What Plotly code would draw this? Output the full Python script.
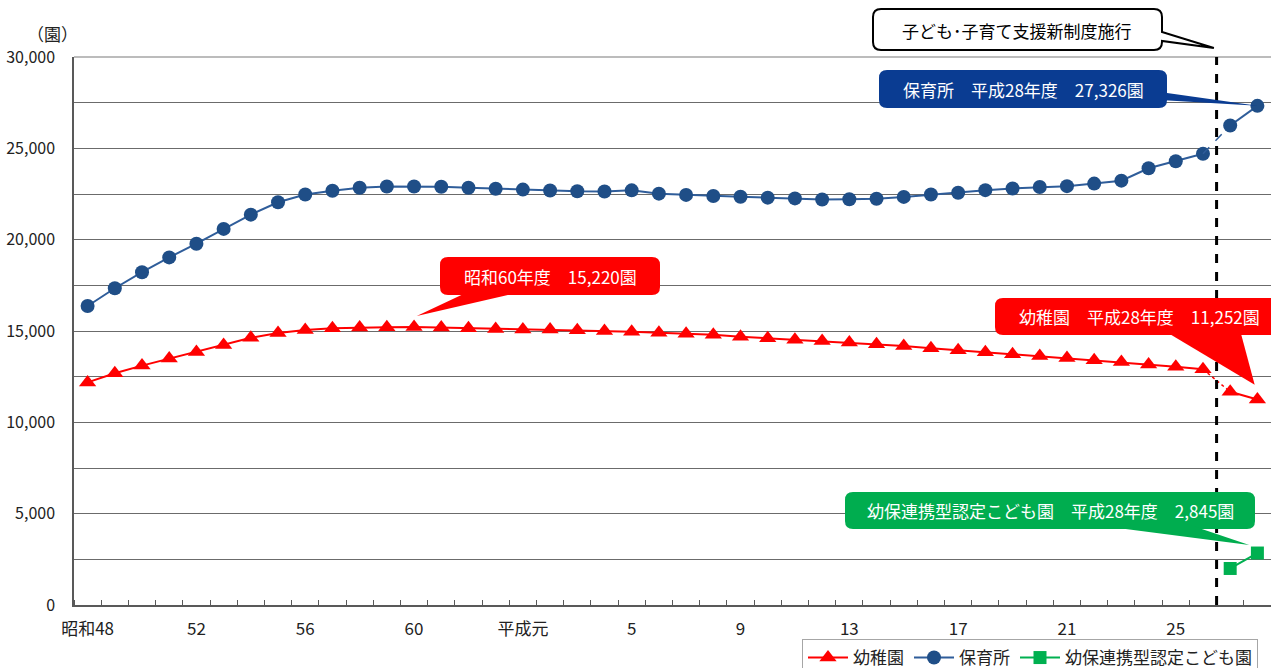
import plotly.graph_objects as go

# ---------------- data ----------------
categories = ["昭和48", "昭和49", "昭和50", "昭和51", "昭和52", "昭和53", "昭和54", "昭和55",
              "昭和56", "昭和57", "昭和58", "昭和59", "昭和60", "昭和61", "昭和62", "昭和63",
              "平成元", "平成2", "平成3", "平成4", "平成5", "平成6", "平成7", "平成8",
              "平成9", "平成10", "平成11", "平成12", "平成13", "平成14", "平成15", "平成16",
              "平成17", "平成18", "平成19", "平成20", "平成21", "平成22", "平成23", "平成24",
              "平成25", "平成26", "平成27", "平成28"]

kindergarten = [12186, 12686, 13106, 13492, 13854, 14229, 14627, 14893, 15059, 15152,
                15189, 15211, 15220, 15189, 15156, 15115, 15080, 15076, 15041, 15006,
                14958, 14901, 14856, 14790, 14690, 14603, 14527, 14451, 14375, 14279,
                14174, 14061, 13949, 13835, 13723, 13626, 13516, 13392, 13299, 13170,
                13043, 12905, 11674, 11252]

nursery = [16370, 17340, 18220, 19030, 19780, 20590, 21370, 22050, 22470, 22680,
           22840, 22910, 22910, 22899, 22840, 22790, 22740, 22690, 22650, 22640,
           22700, 22520, 22450, 22390, 22350, 22300, 22260, 22199, 22210, 22240,
           22340, 22470, 22570, 22710, 22800, 22880, 22930, 23069, 23230, 23910,
           24290, 24700, 26250, 27326]

kodomoen_years = ["平成27", "平成28"]
kodomoen = [2000, 2845]

tick_categories = ["昭和48", "昭和52", "昭和56", "昭和60", "平成元", "平成5", "平成9",
                   "平成13", "平成17", "平成21", "平成25"]
tick_labels = ["昭和48", "52", "56", "60", "平成元", "5", "9", "13", "17", "21", "25"]
y_ticks = [0, 2500, 5000, 7500, 10000, 12500, 15000, 17500, 20000, 22500, 25000, 27500, 30000]

new_system_start = "平成27"

# ---------------- styling ----------------
FONT = "Noto Sans CJK JP"
RED = "#ff0000"
BLUE_M = "#1f4e87"
BLUE_L = "#2f5d9a"
GREEN = "#00b050"
CALL_BLUE = "#0a3c92"
CALL_GREEN = "#00ad4f"

W, H = 1271, 668
L, R, T, B = 74, 0, 57, 63
PW, PH = W - L - R, H - T - B
XMIN, XMAX = -0.5, len(categories) - 0.5
YMAX = 30000

xs = list(range(len(categories)))
k = categories.index(new_system_start)


def px2paper_x(px):
    return (px - L) / PW


def px2paper_y(py):
    return (H - B - py) / PH


def data2paper_x(i):
    return (i - XMIN) / (XMAX - XMIN)


def data2paper_y(v):
    return v / YMAX


fig = go.Figure()

# kindergarten
fig.add_trace(go.Scatter(x=xs[:k], y=kindergarten[:k], mode="lines+markers", name="幼稚園",
                         line=dict(color=RED, width=2),
                         marker=dict(symbol="triangle-up", size=15, color=RED)))
fig.add_trace(go.Scatter(x=xs[k - 1:k + 1], y=kindergarten[k - 1:k + 1], mode="lines",
                         showlegend=False, line=dict(color=RED, width=1.5, dash="dot")))
fig.add_trace(go.Scatter(x=xs[k:], y=kindergarten[k:], mode="lines+markers", showlegend=False,
                         line=dict(color=RED, width=2),
                         marker=dict(symbol="triangle-up", size=15, color=RED)))

# nursery
fig.add_trace(go.Scatter(x=xs[:k], y=nursery[:k], mode="lines+markers", name="保育所",
                         line=dict(color=BLUE_L, width=2),
                         marker=dict(symbol="circle", size=14, color=BLUE_M)))
fig.add_trace(go.Scatter(x=xs[k - 1:k + 1], y=nursery[k - 1:k + 1], mode="lines",
                         showlegend=False, line=dict(color=BLUE_L, width=1.5, dash="dash")))
fig.add_trace(go.Scatter(x=xs[k:], y=nursery[k:], mode="lines+markers", showlegend=False,
                         line=dict(color=BLUE_L, width=2),
                         marker=dict(symbol="circle", size=14, color=BLUE_M)))

# kodomoen
kx = [categories.index(c) for c in kodomoen_years]
fig.add_trace(go.Scatter(x=kx, y=kodomoen, mode="lines+markers", name="幼保連携型認定こども園",
                         line=dict(color=GREEN, width=2),
                         marker=dict(symbol="square", size=13, color=GREEN)))

shapes = []
annotations = []

# lighter top border line
shapes.append(dict(type="line", xref="paper", yref="paper", x0=0, x1=1, y0=1, y1=1,
                   line=dict(color="#a6a6a6", width=1.5), layer="above"))

# dashed vertical line (new system)
shapes.append(dict(type="line", xref="x", yref="paper", x0=k - 0.5, x1=k - 0.5, y0=0, y1=1,
                   line=dict(color="black", width=3, dash="dash"), layer="above"))


def rrect_path(x0, y0, x1, y1, r=8):
    """rounded rect from pixel coords -> path in paper coords"""
    rx = r / PW
    ry = r / PH
    a, b = px2paper_x(x0), px2paper_x(x1)
    top, bot = px2paper_y(y0), px2paper_y(y1)
    return (f"M{a + rx},{top} L{b - rx},{top} Q{b},{top} {b},{top - ry} "
            f"L{b},{bot + ry} Q{b},{bot} {b - rx},{bot} L{a + rx},{bot} "
            f"Q{a},{bot} {a},{bot + ry} L{a},{top - ry} Q{a},{top} {a + rx},{top} Z")


def wedge_path(p1, p2, tip):
    (x1, y1), (x2, y2) = p1, p2
    return (f"M{px2paper_x(x1)},{px2paper_y(y1)} L{px2paper_x(x2)},{px2paper_y(y2)} "
            f"L{tip[0]},{tip[1]} Z")


def callout(box, base1, base2, tip, color, text, tcx, tcy, size=17):
    shapes.append(dict(type="path", xref="paper", yref="paper", path=rrect_path(*box),
                       fillcolor=color, line=dict(width=0), layer="above"))
    shapes.append(dict(type="path", xref="paper", yref="paper",
                       path=wedge_path(base1, base2, tip),
                       fillcolor=color, line=dict(width=0), layer="above"))
    annotations.append(dict(xref="paper", yref="paper", x=px2paper_x(tcx), y=px2paper_y(tcy),
                            text=text, showarrow=False, xanchor="center", yanchor="middle",
                            font=dict(family=FONT, size=size, color="white")))


last = len(categories) - 1
i60 = categories.index("昭和60")

# blue callout (nursery)
callout((879, 70, 1167, 108), (1160, 92), (1160, 100),
        (data2paper_x(last), data2paper_y(nursery[last])),
        CALL_BLUE, "保育所　平成28年度　27,326園", 1023, 89)

# red callout 昭和60
callout((440, 257, 660, 295), (472, 290), (530, 290),
        (data2paper_x(i60 + 0.1), data2paper_y(kindergarten[i60] + 600)),
        RED, "昭和60年度　15,220園", 550, 276)

# red callout 幼稚園 H28
callout((995, 298, 1285, 335), (1163, 330), (1240, 330),
        (data2paper_x(last - 0.1), data2paper_y(kindergarten[last] + 800)),
        RED, "幼稚園　平成28年度　11,252園", 1139, 316)

# green callout
callout((845, 492, 1255, 529), (1087, 524), (1187, 524),
        (data2paper_x(last - 0.3), data2paper_y(kodomoen[-1] + 440)),
        CALL_GREEN, "幼保連携型認定こども園　平成28年度　2,845園", 1050, 510)

# white callout (new system)
bx0, by0, bx1, by1, r = 873, 9, 1162, 50, 8
rx, ry = r / PW, r / PH
a, b_ = px2paper_x(bx0), px2paper_x(bx1)
top, bot = px2paper_y(by0), px2paper_y(by1)
tipx, tipy = data2paper_x(k - 0.6), px2paper_y(48)
white_path = (f"M{a + rx},{top} L{b_ - rx},{top} Q{b_},{top} {b_},{top - ry} "
              f"L{b_},{px2paper_y(32)} L{tipx},{tipy} L{b_},{px2paper_y(41)} "
              f"L{b_},{bot + ry} Q{b_},{bot} {b_ - rx},{bot} L{a + rx},{bot} "
              f"Q{a},{bot} {a},{bot + ry} L{a},{top - ry} Q{a},{top} {a + rx},{top} Z")
shapes.append(dict(type="path", xref="paper", yref="paper", path=white_path,
                   fillcolor="white", line=dict(color="black", width=2), layer="above"))
annotations.append(dict(xref="paper", yref="paper", x=px2paper_x(1017), y=px2paper_y(30),
                        text="子ども･子育て支援新制度施行", showarrow=False,
                        xanchor="center", yanchor="middle",
                        font=dict(family=FONT, size=17, color="black")))

# unit label
annotations.append(dict(xref="paper", yref="paper", x=px2paper_x(52), y=px2paper_y(34),
                        text="（園）", showarrow=False, xanchor="center", yanchor="middle",
                        font=dict(family=FONT, size=17, color="#222")))

fig.update_layout(
    width=W, height=H,
    margin=dict(l=L, r=R, t=T, b=B, pad=0, autoexpand=False),
    paper_bgcolor="white", plot_bgcolor="white",
    font=dict(family=FONT, color="#222"),
    shapes=shapes, annotations=annotations,
    legend=dict(orientation="h", x=px2paper_x(802), xanchor="left",
                y=px2paper_y(639), yanchor="top",
                bordercolor="#a6a6a6", borderwidth=1, bgcolor="white",
                font=dict(family=FONT, size=17, color="#222"),
                itemwidth=40, entrywidthmode="pixels"),
    xaxis=dict(range=[XMIN, XMAX], tickmode="array",
               tickvals=[categories.index(c) for c in tick_categories],
               ticktext=tick_labels, ticks="", showgrid=False, zeroline=False,
               showline=True, linecolor="#595959", linewidth=1.5,
               tickfont=dict(family=FONT, size=17, color="#222"),
               ticklabelstandoff=8, automargin=False,
               minor=dict(tickmode="array", tickvals=[i - 0.5 for i in xs] + [xs[-1] + 0.5],
                          ticks="inside", ticklen=5, tickcolor="#595959", tickwidth=1,
                          showgrid=False)),
    yaxis=dict(range=[0, YMAX], tickmode="array", tickvals=y_ticks,
               ticktext=[f"{v:,}" if v % 5000 == 0 else "" for v in y_ticks],
               showgrid=True, gridcolor="#6b6b6b", gridwidth=1.2, zeroline=False,
               showline=True, linecolor="#595959", linewidth=1.5, ticks="",
               tickfont=dict(family=FONT, size=16, color="#222"),
               ticklabelstandoff=14, automargin=False),
)

fig.write_html("out.html")
